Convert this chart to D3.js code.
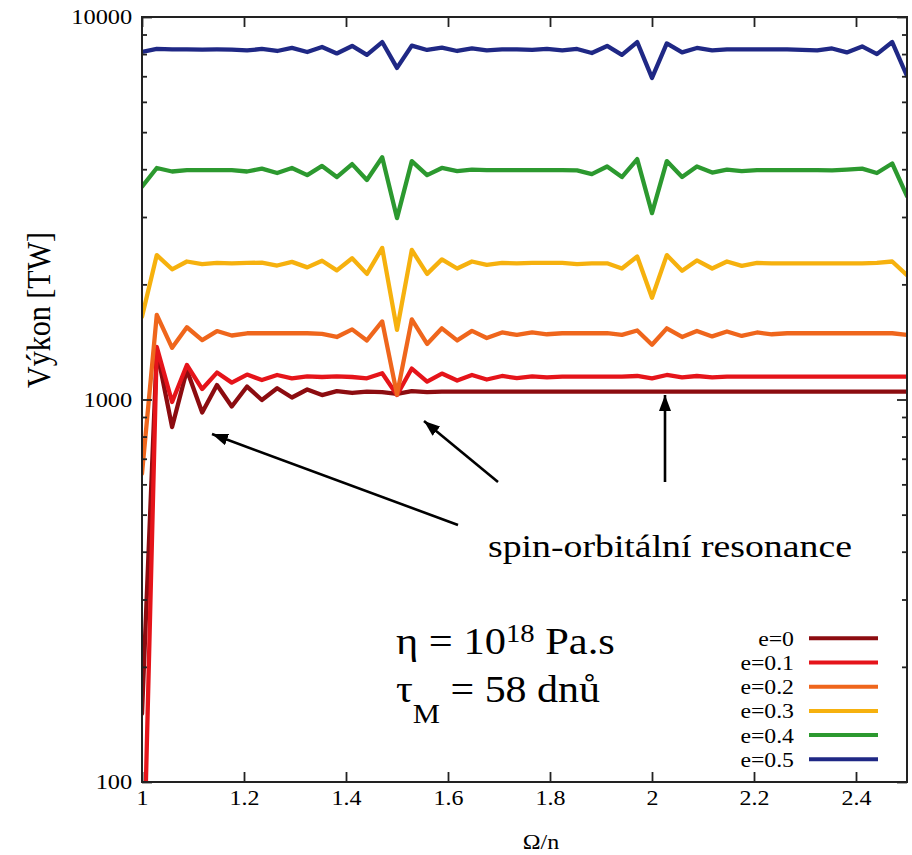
<!DOCTYPE html>
<html><head><meta charset="utf-8">
<script src="https://cdn.jsdelivr.net/npm/d3@7"></script>
<style>
body{margin:0;background:#fff;}
svg text{font-family:"Liberation Serif","Times New Roman",Times,serif !important;fill:#000;}
</style></head><body>
<svg id="chart" width="912" height="855" font-family="Liberation Serif"></svg>
<script>
// ---- data ----
const omega = [1.000,1.029,1.059,1.088,1.118,1.147,1.176,1.206,1.235,1.265,1.294,1.324,1.353,1.382,1.412,1.441,1.471,1.500,1.529,1.559,1.588,1.618,1.647,1.676,1.706,1.735,1.765,1.794,1.824,1.853,1.882,1.912,1.941,1.971,2.000,2.029,2.059,2.088,2.118,2.147,2.176,2.206,2.235,2.265,2.294,2.324,2.353,2.382,2.412,2.441,2.471,2.500];
const e00 = [151,1347,847,1194,925,1091,959,1081,997,1070,1012,1062,1027,1052,1040,1049,1046,1034,1052,1046,1048,1048,1048,1048,1048,1048,1048,1048,1048,1048,1048,1048,1048,1048,1048,1048,1048,1048,1048,1048,1048,1048,1048,1048,1048,1048,1048,1048,1048,1048,1048,1048];
const e01 = [39,1372,985,1231,1065,1176,1107,1162,1124,1159,1136,1149,1145,1149,1145,1136,1171,1027,1205,1114,1169,1121,1159,1128,1152,1138,1149,1142,1147,1147,1147,1147,1147,1152,1136,1159,1142,1152,1143,1147,1147,1147,1147,1147,1147,1147,1147,1147,1147,1147,1147,1147];
const e02 = [640,1665,1365,1545,1430,1510,1470,1490,1490,1490,1490,1490,1485,1457,1525,1427,1600,1030,1620,1397,1535,1427,1511,1448,1497,1475,1497,1481,1490,1490,1490,1492,1475,1515,1390,1535,1457,1511,1462,1506,1466,1497,1481,1490,1490,1490,1490,1490,1490,1490,1490,1475];
const e03 = [1645,2385,2190,2295,2260,2275,2270,2275,2280,2240,2290,2215,2305,2175,2340,2130,2490,1520,2460,2130,2325,2200,2295,2250,2275,2270,2275,2275,2275,2260,2270,2270,2200,2365,1845,2385,2170,2310,2200,2295,2235,2275,2270,2270,2270,2270,2270,2270,2270,2275,2295,2115];
const e04 = [3600,4030,3945,3980,3980,3980,3980,3945,4015,3910,4030,3860,4080,3815,4125,3750,4300,2980,4200,3860,4030,3955,3990,3980,3980,3980,3980,3980,3980,3970,3885,4065,3815,4250,3070,4200,3815,4065,3920,3990,3955,3980,3980,3980,3980,3980,3970,3990,4015,3910,4140,3400];
const e05 = [8100,8250,8225,8225,8220,8225,8220,8175,8250,8150,8300,8100,8350,8030,8400,7960,8600,7360,8420,8200,8320,8150,8275,8175,8225,8225,8200,8250,8175,8250,8050,8400,7960,8600,6930,8530,8080,8300,8175,8225,8225,8225,8225,8225,8200,8175,8275,8080,8375,8000,8600,7010];
const seriesNames = ["e=0","e=0.1","e=0.2","e=0.3","e=0.4","e=0.5"];
const seriesValues = [e00,e01,e02,e03,e04,e05];
const xTickValues = [1,1.2,1.4,1.6,1.8,2,2.2,2.4];
const xTickLabels = ["1","1.2","1.4","1.6","1.8","2","2.2","2.4"];
const yMajor = [100,1000,10000];
const yMajorLabels = ["100","1000","10000"];
const yMinor = [200,300,400,500,600,700,800,900,2000,3000,4000,5000,6000,7000,8000,9000];
const annotationText = "spin-orbitální resonance";

// ---- styles ----
const FONT = "'Liberation Serif','Times New Roman',Times,serif";
const colors = ["#8c0c10","#e5141a","#ef661c","#f6b10e","#2c992f","#1f2885"];
const M = {left:142, right:907, top:17, bottom:782};

const svg = d3.select("#chart");
svg.append("rect").attr("width",912).attr("height",855).attr("fill","#fff");

const x = d3.scaleLinear().domain([1,2.5]).range([M.left,M.right]);
const y = d3.scaleLog().domain([100,10000]).range([M.bottom,M.top]);

function stretch(t, sx, sy){
  t.attr("transform", `scale(${sx},${sy||1})`);
}

svg.append("defs").append("clipPath").attr("id","clip")
  .append("rect").attr("x",M.left).attr("y",M.top)
  .attr("width",M.right-M.left).attr("height",M.bottom-M.top);

// series lines
const line = d3.line().x((d,i)=>x(omega[i])).y(d=>y(d));
const gl = svg.append("g").attr("clip-path","url(#clip)");
seriesValues.forEach((vals,k)=>{
  gl.append("path").attr("d",line(vals)).attr("fill","none")
    .attr("stroke",colors[k]).attr("stroke-width",4.3)
    .attr("stroke-linejoin","round").attr("stroke-linecap","round");
});

// axes
const axisColor = "#222";
const fmtX = (d)=> xTickLabels[xTickValues.indexOf(d)];
const fmtY = (d)=> yMajorLabels[yMajor.indexOf(d)];
const gxb = svg.append("g").attr("transform",`translate(0,${M.bottom})`)
  .call(d3.axisBottom(x).tickValues(xTickValues).tickSize(-10).tickSizeOuter(0).tickPadding(9).tickFormat(fmtX));
const gxt = svg.append("g").attr("transform",`translate(0,${M.top})`)
  .call(d3.axisTop(x).tickValues(xTickValues).tickSize(-10).tickSizeOuter(0).tickFormat(""));
const gyl = svg.append("g").attr("transform",`translate(${M.left},0)`)
  .call(d3.axisLeft(y).tickValues(yMajor).tickSize(-10).tickSizeOuter(0).tickPadding(8).tickFormat(fmtY));
const gylm = svg.append("g").attr("transform",`translate(${M.left},0)`)
  .call(d3.axisLeft(y).tickValues(yMinor).tickSize(-5).tickSizeOuter(0).tickFormat(""));
const gyr = svg.append("g").attr("transform",`translate(${M.right},0)`)
  .call(d3.axisRight(y).tickValues(yMajor).tickSize(-10).tickSizeOuter(0).tickFormat(""));
const gyrm = svg.append("g").attr("transform",`translate(${M.right},0)`)
  .call(d3.axisRight(y).tickValues(yMinor).tickSize(-5).tickSizeOuter(0).tickFormat(""));
[gxb,gxt,gyl,gylm,gyr,gyrm].forEach(g=>{
  g.attr("font-family",FONT);
  g.select(".domain").remove();
  g.selectAll("line").attr("stroke",axisColor).attr("stroke-width",1.8);
  g.selectAll("text").attr("font-size",20).attr("fill","#000").attr("font-family",FONT);
});
gxb.selectAll(".tick text").each(function(){ stretch(d3.select(this),1.2); });
gyl.selectAll(".tick text").each(function(){ stretch(d3.select(this),1.22); });
gyl.selectAll(".tick text").attr("dy","0.34em");

// frame
svg.append("rect").attr("x",M.left).attr("y",M.top)
  .attr("width",M.right-M.left).attr("height",M.bottom-M.top)
  .attr("fill","none").attr("stroke",axisColor).attr("stroke-width",2);

// axis titles
const yt = svg.append("g").attr("transform","translate(50,310) rotate(-90)");
const ytt = yt.append("text").attr("text-anchor","middle").attr("font-size",34).attr("font-family",FONT).text("Výkon [TW]");
stretch(ytt, 156/ytt.node().getComputedTextLength(), 1.0);
const xt = svg.append("g").attr("transform","translate(541,849)");
stretch(xt.append("text").attr("text-anchor","middle").attr("font-size",20).attr("font-family",FONT).text("Ω/n"),1.2);

// legend
const lg = svg.append("g");
seriesNames.forEach((nm,k)=>{
  const yy = 638.3 + k*24.2;
  const g = lg.append("g").attr("transform",`translate(794,${yy})`);
  stretch(g.append("text").attr("text-anchor","end").attr("dy","0.34em").attr("font-size",22).attr("font-family",FONT).text(nm),1.08);
  lg.append("line").attr("x1",809).attr("x2",878).attr("y1",yy).attr("y2",yy)
    .attr("stroke",colors[k]).attr("stroke-width",4);
});

// annotations
const an = svg.append("g").attr("transform","translate(488,557)");
const ant = an.append("text").attr("font-size",31).attr("font-family",FONT).text(annotationText);
stretch(ant, 364/ant.node().getComputedTextLength());

const eta = svg.append("g").attr("transform","translate(396,654)");
const etaT = eta.append("text").attr("font-size",37).attr("font-family",FONT);
etaT.append("tspan").text("η = 10");
etaT.append("tspan").attr("font-size",25).attr("dy",-12).text("18");
etaT.append("tspan").attr("dy",12).text(" Pa.s");
stretch(etaT, 219/etaT.node().getBBox().width);

const tau = svg.append("g").attr("transform","translate(396,702)");
const tauT = tau.append("text").attr("font-size",37).attr("font-family",FONT);
tauT.append("tspan").text("τ");
tauT.append("tspan").attr("font-size",27).attr("dy",21).text("M");
tauT.append("tspan").attr("dy",-21).text(" = 58 dnů");
stretch(tauT, 204/tauT.node().getBBox().width);

// arrows
const defs = svg.select("defs");
defs.append("marker").attr("id","ah").attr("viewBox","0 0 16 12")
  .attr("refX",16).attr("refY",6).attr("markerWidth",16).attr("markerHeight",12)
  .attr("markerUnits","userSpaceOnUse").attr("orient","auto")
  .append("path").attr("d","M0,0 L16,6 L0,12 Z").attr("fill","#000");
const arrows = [[458,525,212,434],[498,482,424,421],[665,482,665,395]];
arrows.forEach(a=>{
  svg.append("line").attr("x1",a[0]).attr("y1",a[1]).attr("x2",a[2]).attr("y2",a[3])
    .attr("stroke","#000").attr("stroke-width",2.6).attr("marker-end","url(#ah)");
});
</script>
</body></html>
